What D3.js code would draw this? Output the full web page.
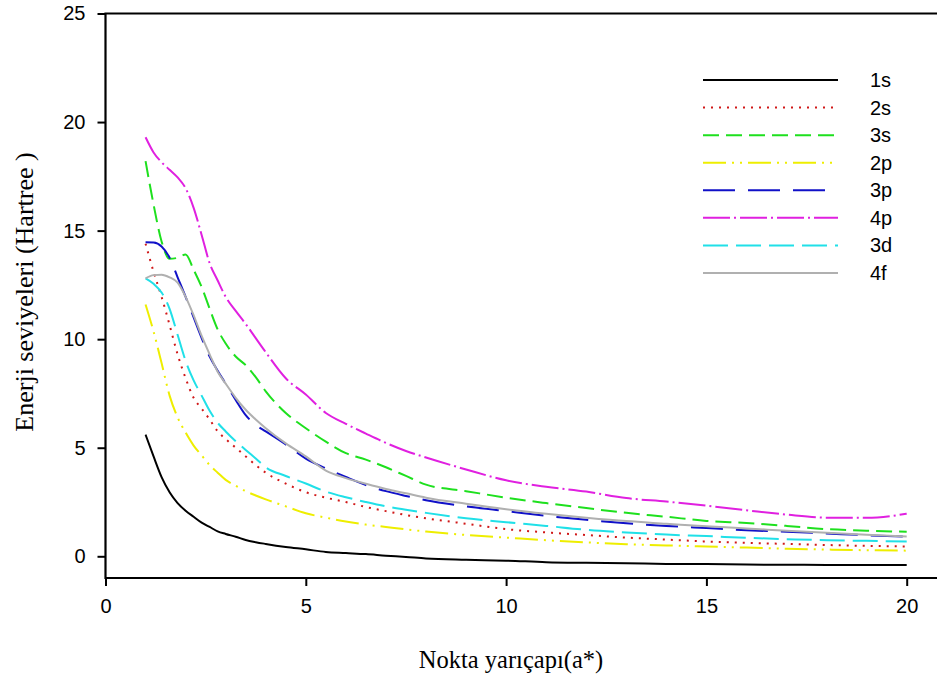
<!DOCTYPE html>
<html>
<head>
<meta charset="utf-8">
<script src="https://cdn.jsdelivr.net/npm/d3@7"></script>
<style>
    body { margin: 0; background: #fff; }
    .tick text { font-family: "Liberation Sans", Arial, sans-serif; font-size: 20px; fill: #000; }
    .title { font-family: "Liberation Serif", "Times New Roman", serif; fill: #000; }
    .legend text { font-family: "Liberation Sans", Arial, sans-serif; font-size: 20px; fill: #000; }
</style>
</head>
<body>
<svg id="chart"></svg>
<script>
// nokta yaricapi (a*) grid
let radius = [1, 1.2, 1.4, 1.6, 1.8, 2, 2.2, 2.4, 2.6, 2.8, 3, 3.25, 3.5, 3.75, 4, 4.5, 5, 5.5, 6, 6.5, 7, 7.5, 8,
    9, 10, 11, 12, 13, 14, 15, 16, 17, 18, 19, 20];

let e1s = [5.6, 4.6, 3.65, 2.95, 2.45, 2.1, 1.82, 1.55, 1.35, 1.15, 1.03, 0.9, 0.75, 0.65, 0.57, 0.43, 0.32, 0.2, 0.15,
    0.1, 0.03, -0.03, -0.1, -0.16, -0.2, -0.27, -0.3, -0.32, -0.35, -0.36, -0.38, -0.39, -0.4, -0.4, -0.4];
let e2s = [14.4, 13.1, 11.95, 10.65, 9.3, 8.2, 7.3, 6.8, 6.3, 5.75, 5.4, 5.0, 4.6, 4.2, 3.85, 3.35, 2.95, 2.7, 2.5,
    2.27, 2.08, 1.9, 1.75, 1.5, 1.25, 1.1, 0.98, 0.86, 0.77, 0.68, 0.62, 0.57, 0.52, 0.48, 0.45];
let e3s = [18.2, 16.2, 14.5, 13.7, 13.75, 13.9, 13.2, 12.4, 11.4, 10.45, 9.8, 9.2, 8.8, 8.25, 7.6, 6.6, 5.9, 5.28, 4.75,
    4.45, 4.1, 3.7, 3.3, 3.0, 2.7, 2.45, 2.22, 2.0, 1.82, 1.63, 1.53, 1.4, 1.25, 1.18, 1.13];
let e2p = [11.6, 10.35, 8.9, 7.4, 6.4, 5.7, 5.1, 4.65, 4.2, 3.85, 3.52, 3.25, 3.0, 2.8, 2.62, 2.3, 1.98, 1.78, 1.6,
    1.46, 1.35, 1.24, 1.14, 0.98, 0.86, 0.74, 0.64, 0.56, 0.5, 0.45, 0.4, 0.35, 0.31, 0.28, 0.26];
let e3p = [14.46, 14.45, 14.27, 13.75, 12.85, 11.95, 11.0, 10.05, 9.2, 8.55, 7.95, 7.2, 6.5, 6.05, 5.75, 5.15, 4.5, 4.05, 3.65,
    3.28, 3.0, 2.78, 2.58, 2.3, 2.08, 1.86, 1.68, 1.52, 1.4, 1.3, 1.2, 1.13, 1.05, 0.97, 0.91];
let e4p = [19.3, 18.6, 18.15, 17.8, 17.45, 16.95, 16.05, 14.8, 13.5, 12.7, 11.95, 11.3, 10.7, 10.05, 9.4, 8.2, 7.45, 6.6, 6.1,
    5.65, 5.22, 4.85, 4.55, 4.0, 3.5, 3.2, 2.98, 2.68, 2.52, 2.33, 2.12, 1.92, 1.78, 1.77, 1.96];
let e3d = [12.8, 12.55, 12.15, 11.4, 10.2, 9.0, 8.1, 7.4, 6.7, 6.15, 5.75, 5.3, 4.9, 4.5, 4.1, 3.7, 3.35, 2.98, 2.72,
    2.5, 2.3, 2.14, 2.0, 1.75, 1.57, 1.4, 1.22, 1.1, 1.0, 0.93, 0.85, 0.79, 0.74, 0.71, 0.68];
let e4f = [12.8, 12.95, 12.97, 12.85, 12.6, 11.95, 11.1, 10.15, 9.3, 8.5, 7.95, 7.3, 6.75, 6.3, 5.9, 5.2, 4.6, 3.95, 3.6,
    3.34, 3.1, 2.9, 2.7, 2.42, 2.17, 1.96, 1.78, 1.62, 1.5, 1.38, 1.28, 1.18, 1.08, 0.99, 0.91];

let labels = ["1s", "2s", "3s", "2p", "3p", "4p", "3d", "4f"];
let xTicks = [0, 5, 10, 15, 20];
let yTicks = [0, 5, 10, 15, 20, 25];

let series = [
    {name: "1s", values: e1s, color: "#000000", dash: null},
    {name: "2s", values: e2s, color: "#d01818", dash: "2,6"},
    {name: "3s", values: e3s, color: "#1ee01e", dash: "16,7"},
    {name: "2p", values: e2p, color: "#eeee00", dash: "23,6,2,6,2,6"},
    {name: "3p", values: e3p, color: "#1010c8", dash: "32,13"},
    {name: "4p", values: e4p, color: "#e020e0", dash: "27,4,2,4"},
    {name: "3d", values: e3d, color: "#20e0e8", dash: "25,8"},
    {name: "4f", values: e4f, color: "#b0b0b0", dash: null}
];

let width = 937, height = 677;
let svg = d3.select("#chart")
    .attr("width", width)
    .attr("height", height);

let x = d3.scaleLinear().domain([0, 20]).range([105.5, 906.7]);
let y = d3.scaleLinear().domain([-1, 25]).range([578, 13.5]);

// axes
let xAxis = svg.append("g")
    .attr("transform", `translate(0,${y(-1)})`)
    .call(d3.axisBottom(x).tickValues(xTicks).tickSize(8).tickPadding(13).tickSizeOuter(0));
let yAxis = svg.append("g")
    .attr("transform", `translate(${x(0)},0)`)
    .call(d3.axisLeft(y).tickValues(yTicks).tickSize(8).tickPadding(12).tickSizeOuter(0));

[xAxis, yAxis].forEach(a => {
    a.select(".domain").remove();
    a.selectAll(".tick line").attr("stroke", "#000").attr("stroke-width", 2);
});

// frame: left, bottom and top lines run out past the window edge
svg.append("path")
    .attr("d", `M${width},${y(25)}H${x(0)}V${y(-1)}H${width}`)
    .attr("fill", "none")
    .attr("stroke", "#000")
    .attr("stroke-width", 2.2);

let line = d3.line()
    .x((d, i) => x(radius[i]))
    .y(d => y(d))
    .curve(d3.curveMonotoneX);

svg.append("g")
    .selectAll("path")
    .data(series)
    .enter().append("path")
    .attr("d", d => line(d.values))
    .attr("fill", "none")
    .attr("stroke", d => d.color)
    .attr("stroke-width", 2)
    .attr("stroke-dasharray", d => d.dash);

// legend
let legend = svg.append("g").attr("class", "legend");
let rowY = d3.scaleLinear().domain([0, labels.length - 1]).range([80, 273]);
series.forEach((s, i) => {
    legend.append("line")
        .attr("x1", 703).attr("x2", 838)
        .attr("y1", rowY(i)).attr("y2", rowY(i))
        .attr("stroke", s.color)
        .attr("stroke-width", 2)
        .attr("stroke-dasharray", s.dash);
    legend.append("text")
        .attr("x", 870)
        .attr("y", rowY(i) + 7)
        .text(labels[i]);
});

// titles
svg.append("text")
    .attr("class", "title")
    .attr("x", 511)
    .attr("y", 668)
    .attr("text-anchor", "middle")
    .style("font-size", "24.5px")
    .text("Nokta yarıçapı(a*)");

svg.append("text")
    .attr("class", "title")
    .attr("transform", "translate(33,292) rotate(-90)")
    .attr("text-anchor", "middle")
    .style("font-size", "26px")
    .text("Enerji seviyeleri (Hartree )");
</script>
</body>
</html>
